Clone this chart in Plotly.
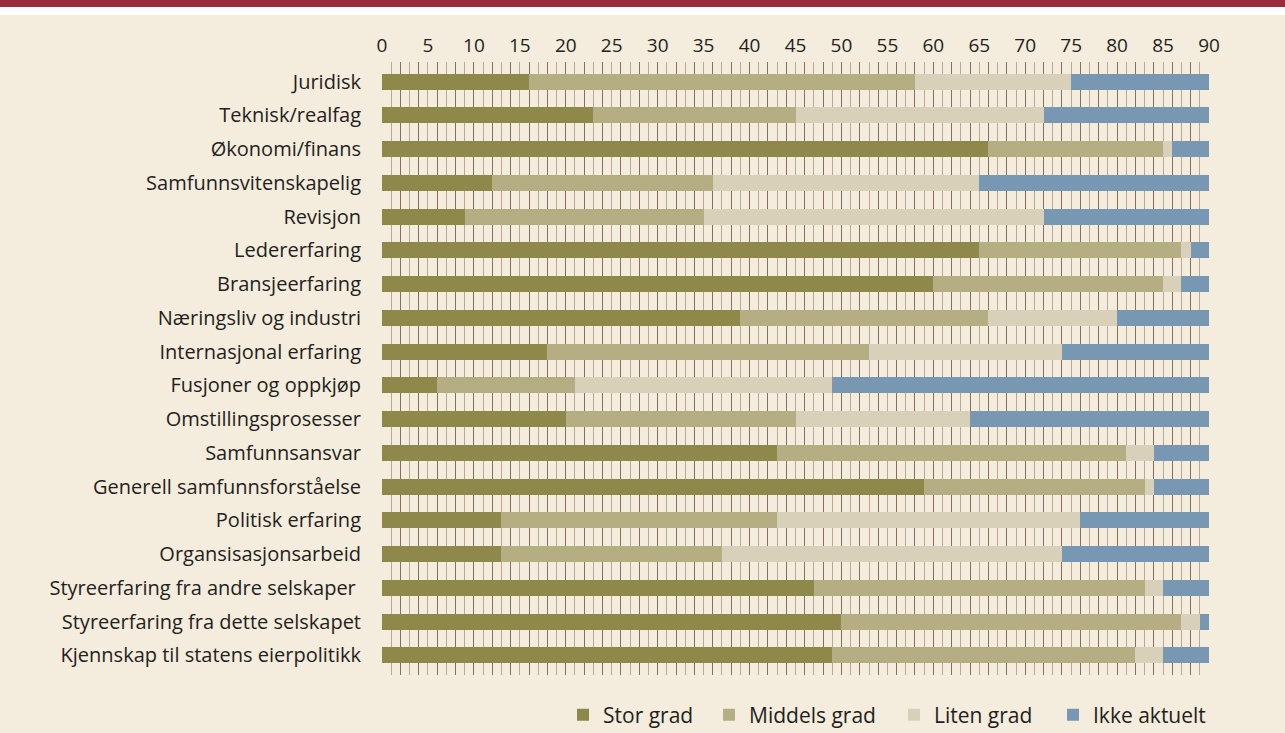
import plotly.graph_objects as go

categories = [
    "Juridisk", "Teknisk/realfag", "Økonomi/finans", "Samfunnsvitenskapelig",
    "Revisjon", "Ledererfaring", "Bransjeerfaring", "Næringsliv og industri",
    "Internasjonal erfaring", "Fusjoner og oppkjøp", "Omstillingsprosesser",
    "Samfunnsansvar", "Generell samfunnsforståelse", "Politisk erfaring",
    "Organsisasjonsarbeid", "Styreerfaring fra andre selskaper ",
    "Styreerfaring fra dette selskapet", "Kjennskap til statens eierpolitikk",
]
stor_grad = [16, 23, 66, 12, 9, 65, 60, 39, 18, 6, 20, 43, 59, 13, 13, 47, 50, 49]
middels_grad = [42, 22, 19, 24, 26, 22, 25, 27, 35, 15, 25, 38, 24, 30, 24, 36, 37, 33]
liten_grad = [17, 27, 1, 29, 37, 1, 2, 14, 21, 28, 19, 3, 1, 33, 37, 2, 2, 3]
ikke_aktuelt = [15, 18, 4, 25, 18, 2, 3, 10, 16, 41, 26, 6, 6, 14, 16, 5, 1, 5]
series_names = ["Stor grad", "Middels grad", "Liten grad", "Ikke aktuelt"]
series_colors = ["#8e894b", "#b5ae82", "#d9d0ba", "#7897b2"]
x_ticks = list(range(0, 91, 5))

CREAM = "#f4ecdc"
FONT = "Open Sans"
W, H = 1285, 733
M_L, M_R, M_T, M_B = 382, 76, 62, 58
PLOT_W = W - M_L - M_R
PLOT_H = H - M_T - M_B

legend_ids = ["legend", "legend2", "legend3", "legend4"]
legend_left_px = [563, 709, 894, 1053]

fig = go.Figure()
for name, vals, col, lg in zip(series_names,
                               [stor_grad, middels_grad, liten_grad, ikke_aktuelt],
                               series_colors, legend_ids):
    fig.add_trace(go.Bar(
        y=categories, x=vals, name=name, orientation="h", legend=lg,
        marker=dict(color=col, line=dict(width=0)), width=0.47,
    ))

# invisible trace to carry the secondary x axis with the fine grid
fig.add_trace(go.Bar(x=[0], y=[categories[0]], xaxis="x2", orientation="h",
                     marker=dict(opacity=0), showlegend=False, hoverinfo="skip"))

legend_layout = {}
for lg, px in zip(legend_ids, legend_left_px):
    legend_layout[lg] = dict(
        x=(px - M_L) / PLOT_W, xanchor="left",
        y=-(715 - (H - M_B)) / PLOT_H, yanchor="middle",
        bgcolor="rgba(0,0,0,0)", font=dict(size=21, color="#231f20"),
        itemwidth=30, borderwidth=0,
    )

fig.update_layout(
    barmode="stack",
    width=W, height=H,
    margin=dict(l=M_L, r=M_R, t=M_T, b=M_B, autoexpand=False),
    paper_bgcolor=CREAM,
    plot_bgcolor=CREAM,
    font=dict(family=FONT, size=20, color="#231f20"),
    xaxis=dict(
        side="top", range=[0, 90], tickvals=x_ticks, showgrid=False,
        zeroline=False, showline=False, ticks="", ticklabelstandoff=5,
        tickfont=dict(size=19),
    ),
    xaxis2=dict(
        overlaying="x", range=[0, 90], dtick=2, tick0=0, showgrid=True,
        gridcolor="#86705f", gridwidth=1, showticklabels=False, zeroline=False,
        showline=False, ticks="",
        minor=dict(dtick=1, tick0=1, showgrid=True, gridcolor="#bba796", gridwidth=1),
        layer="below traces",
    ),
    yaxis=dict(
        categoryorder="array", categoryarray=categories,
        range=[len(categories) - 1 + 0.58, -0.58],
        showgrid=False, zeroline=False, showline=False, ticks="",
        ticklabelstandoff=20, tickfont=dict(size=20),
    ),
    shapes=[
        dict(type="rect", xref="paper", yref="paper", x0=-1, x1=2,
             y0=1 + (M_T - 15) / PLOT_H, y1=1 + (M_T + 1) / PLOT_H, fillcolor="white",
             line=dict(width=0), layer="below"),
        dict(type="rect", xref="paper", yref="paper", x0=-1, x1=2,
             y0=1 + (M_T - 7) / PLOT_H, y1=1 + (M_T + 1) / PLOT_H, fillcolor="#9b2b3c",
             line=dict(width=0), layer="below"),
    ],
    **legend_layout,
)

fig.write_html("out.html")
